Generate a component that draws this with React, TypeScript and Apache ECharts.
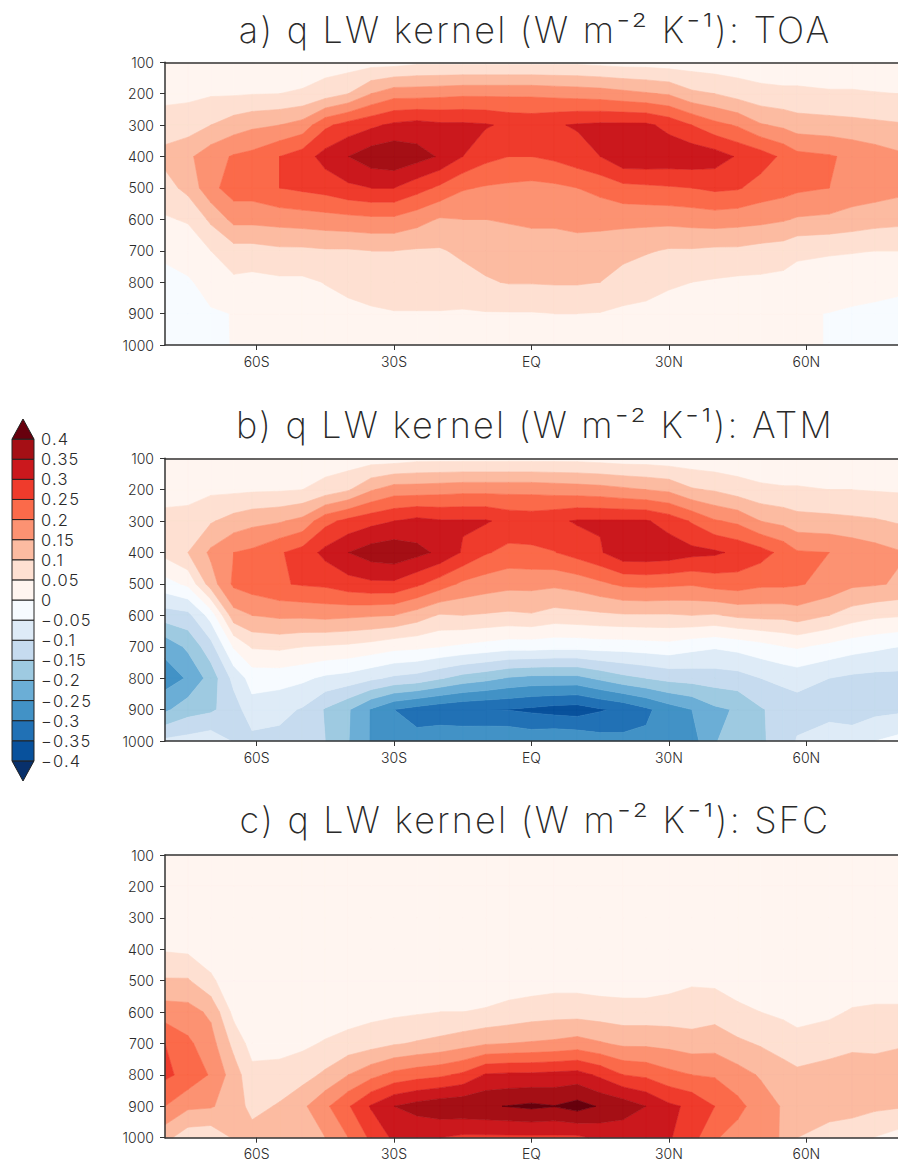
import React, { useEffect, useRef } from "react";
import * as echarts from "echarts";

const levels = [100, 200, 300, 400, 500, 600, 700, 800, 900, 1000];
const lats = [-80, -75, -70, -65, -61, -55, -50, -45, -40, -35, -30, -25, -20, -15, -10, -5, 0, 5, 10, 15, 20, 25, 30, 35, 40, 45, 50, 55, 58, 65, 70, 75, 80];
const latTicks = [-60, -30, 0, 30, 60];
const latTickLabels: Record<string, string> = { "-60": "60S", "-30": "30S", "0": "EQ", "30": "30N", "60": "60N" };
const contourLevels = [-0.4, -0.35, -0.3, -0.25, -0.2, -0.15, -0.1, -0.05, 0, 0.05, 0.1, 0.15, 0.2, 0.25, 0.3, 0.35, 0.4];
const bandColors = ["#08306b", "#08519c", "#2171b5", "#4292c6", "#6baed6", "#9ecae1", "#c6dbef", "#deebf7", "#f7fbff",
  "#fff5f0", "#fee0d2", "#fcbba1", "#fc9272", "#fb6a4a", "#ef3b2c", "#cb181d", "#a50f15", "#67000d"];

// one row per latitude, values at levels 100..1000 hPa
const toaField = [
  [.02, .035, .075, .115, .08, .045, .01, -.015, -.02, -.02],
  [.02, .04, .075, .14, .115, .055, .02, -.005, -.012, -.012],
  [.02, .045, .1, .18, .185, .11, .05, .015, -.004, -.005],
  [.02, .045, .125, .205, .225, .165, .08, .04, .001, .001],
  [.02, .048, .14, .215, .225, .165, .08, .035, .015, .01],
  [.02, .05, .15, .25, .25, .17, .09, .04, .015, .01],
  [.025, .055, .17, .275, .26, .175, .09, .04, .015, .01],
  [.025, .075, .24, .32, .27, .18, .095, .052, .03, .015],
  [.025, .1, .27, .35, .29, .185, .095, .065, .035, .02],
  [.03, .15, .29, .38, .3, .19, .1, .075, .042, .02],
  [.03, .18, .31, .39, .3, .19, .1, .08, .047, .02],
  [.04, .18, .32, .37, .27, .17, .095, .08, .047, .025],
  [.04, .185, .31, .345, .24, .145, .095, .08, .047, .03],
  [.04, .19, .31, .3, .205, .15, .11, .08, .045, .03],
  [.04, .19, .305, .265, .195, .15, .12, .095, .047, .03],
  [.04, .19, .29, .25, .19, .155, .12, .103, .047, .03],
  [.04, .19, .285, .25, .185, .16, .125, .103, .047, .03],
  [.04, .185, .295, .26, .19, .16, .125, .105, .05, .03],
  [.04, .18, .305, .28, .2, .165, .13, .105, .05, .03],
  [.035, .175, .31, .3, .215, .165, .125, .1, .048, .03],
  [.03, .165, .31, .34, .235, .165, .115, .08, .04, .025],
  [.03, .155, .31, .34, .24, .165, .105, .065, .04, .025],
  [.025, .145, .285, .335, .245, .165, .095, .055, .035, .02],
  [.025, .11, .25, .335, .25, .17, .095, .05, .03, .02],
  [.02, .1, .215, .325, .26, .175, .09, .045, .025, .02],
  [.02, .08, .195, .295, .255, .17, .09, .04, .02, .015],
  [.02, .065, .155, .275, .23, .165, .08, .04, .02, .015],
  [.02, .06, .14, .24, .22, .155, .075, .035, .015, .01],
  [.02, .06, .125, .215, .21, .145, .06, .03, .004, .004],
  [.02, .055, .12, .205, .2, .14, .055, .025, -.001, -.001],
  [.02, .055, .115, .19, .18, .13, .053, .02, -.006, -.008],
  [.02, .052, .11, .175, .175, .12, .05, .015, -.009, -.012],
  [.02, .05, .105, .16, .165, .115, .05, .01, -.012, -.015],
];
const atmField = [
  [.015, .03, .065, .065, -.02, -.125, -.235, -.275, -.21, -.09],
  [.015, .035, .065, .1, .01, -.115, -.19, -.245, -.172, -.082],
  [.015, .04, .095, .16, .125, -.03, -.12, -.18, -.159, -.07],
  [.015, .04, .12, .2, .21, .13, .005, -.085, -.124, -.104],
  [.015, .043, .135, .21, .225, .15, .055, -.03, -.07, -.115],
  [.015, .045, .145, .245, .245, .16, .06, -.03, -.085, -.115],
  [.02, .05, .165, .27, .255, .16, .05, -.04, -.105, -.125],
  [.02, .07, .235, .315, .26, .165, .045, -.06, -.155, -.15],
  [.02, .095, .265, .35, .28, .16, .04, -.07, -.195, -.198],
  [.025, .145, .285, .375, .29, .155, .03, -.09, -.255, -.255],
  [.025, .175, .3, .385, .29, .15, .015, -.11, -.3, -.29],
  [.035, .175, .315, .365, .26, .125, .01, -.12, -.32, -.285],
  [.035, .18, .305, .34, .225, .095, 0, -.145, -.335, -.265],
  [.035, .185, .305, .295, .19, .1, -.01, -.17, -.345, -.26],
  [.035, .185, .305, .255, .175, .095, -.02, -.185, -.35, -.255],
  [.035, .185, .285, .235, .165, .09, -.03, -.205, -.352, -.255],
  [.035, .185, .28, .24, .165, .095, -.03, -.215, -.36, -.265],
  [.035, .18, .29, .248, .16, .08, -.035, -.215, -.37, -.255],
  [.035, .175, .305, .27, .17, .085, -.035, -.215, -.375, -.26],
  [.03, .17, .305, .295, .19, .09, -.03, -.19, -.355, -.28],
  [.025, .16, .305, .335, .21, .095, -.03, -.165, -.34, -.285],
  [.025, .15, .305, .335, .215, .095, -.025, -.15, -.31, -.29],
  [.02, .14, .28, .33, .21, .095, -.02, -.135, -.275, -.3],
  [.02, .105, .245, .315, .205, .1, -.035, -.13, -.25, -.27],
  [.015, .095, .205, .308, .22, .095, -.045, -.125, -.21, -.205],
  [.015, .075, .19, .29, .225, .11, -.035, -.12, -.195, -.165],
  [.015, .06, .15, .27, .21, .115, -.02, -.1, -.155, -.155],
  [.015, .055, .135, .235, .21, .115, -.002, -.088, -.13, -.135],
  [.015, .055, .12, .205, .205, .125, .005, -.08, -.125, -.095],
  [.015, .05, .115, .2, .185, .1, -.015, -.1, -.117, -.075],
  [.015, .05, .11, .185, .16, .075, -.03, -.11, -.12, -.08],
  [.015, .047, .105, .17, .155, .06, -.04, -.115, -.115, -.05],
  [.015, .045, .095, .155, .145, .055, -.05, -.115, -.11, -.035],
];
const sfcField = [
  [.005, .005, .01, .045, .105, .175, .25, .26, .2, .115],
  [.005, .005, .01, .04, .105, .17, .21, .235, .16, .07],
  [.005, .005, .005, .02, .06, .14, .17, .195, .155, .065],
  [.005, .005, .005, .005, .015, .035, .085, .125, .125, .105],
  [.005, .005, .005, .005, .005, .01, .03, .065, .085, .12],
  [.005, .005, .005, .005, .005, .01, .03, .07, .105, .125],
  [.005, .005, .005, .005, .005, .015, .04, .08, .14, .125],
  [.005, .005, .005, .005, .005, .02, .055, .11, .19, .15],
  [.005, .005, .005, .005, .01, .025, .07, .15, .245, .2],
  [.005, .005, .005, .005, .01, .035, .08, .185, .305, .26],
  [.005, .005, .005, .005, .01, .04, .095, .215, .35, .31],
  [.005, .005, .005, .005, .01, .045, .105, .23, .37, .305],
  [.005, .005, .005, .005, .015, .05, .115, .24, .385, .3],
  [.005, .005, .005, .005, .015, .05, .13, .26, .39, .29],
  [.005, .005, .005, .01, .02, .055, .145, .305, .395, .29],
  [.005, .005, .005, .015, .025, .065, .15, .31, .402, .29],
  [.005, .005, .005, .015, .025, .075, .155, .31, .41, .29],
  [.005, .005, .005, .012, .03, .08, .16, .315, .402, .29],
  [.005, .005, .005, .01, .03, .08, .17, .32, .42, .29],
  [.005, .005, .005, .005, .025, .075, .155, .29, .395, .31],
  [.005, .005, .005, .005, .025, .07, .14, .25, .38, .31],
  [.005, .005, .005, .005, .025, .07, .14, .24, .35, .31],
  [.005, .005, .005, .005, .035, .07, .135, .215, .31, .305],
  [.005, .005, .005, .01, .045, .07, .125, .2, .29, .27],
  [.005, .005, .005, .01, .04, .08, .13, .195, .25, .205],
  [.005, .005, .005, .005, .03, .06, .11, .17, .215, .18],
  [.005, .005, .005, .005, .02, .05, .095, .145, .175, .17],
  [.005, .005, .005, .005, .01, .04, .08, .12, .145, .145],
  [.005, .005, .005, .005, .01, .03, .07, .11, .125, .1],
  [.005, .005, .005, .005, .015, .04, .08, .12, .115, .085],
  [.005, .005, .005, .005, .02, .055, .09, .125, .115, .075],
  [.005, .005, .005, .005, .02, .06, .09, .12, .11, .048],
  [.005, .005, .005, .005, .02, .06, .095, .125, .105, .03],
];
const panelTitles = [
  "a) q LW kernel (W m\u207B\u00B2 K\u207B\u00B9): TOA",
  "b) q LW kernel (W m\u207B\u00B2 K\u207B\u00B9): ATM",
  "c) q LW kernel (W m\u207B\u00B2 K\u207B\u00B9): SFC",
];
const panelFields = [toaField, atmField, sfcField];

const FONT = "Inter";
const INK = "#2a2a2a";

type V = { lat: number; p: number; v: number };
function clipPoly(poly: V[], level: number, above: boolean): V[] {
  const out: V[] = [];
  const inside = (a: V) => (above ? a.v >= level : a.v < level);
  for (let i = 0; i < poly.length; i++) {
    const a = poly[i];
    const b = poly[(i + 1) % poly.length];
    const ia = inside(a);
    const ib = inside(b);
    if (ia) out.push(a);
    if (ia !== ib) {
      const t = (level - a.v) / (b.v - a.v);
      out.push({ lat: a.lat + t * (b.lat - a.lat), p: a.p + t * (b.p - a.p), v: level });
    }
  }
  return out;
}

function contourRender(field: number[][]) {
  return (_params: any, api: any) => {
    const band = api.value(2) as number;
    const lo = band === 0 ? -Infinity : contourLevels[band - 1];
    const hi = band === bandColors.length - 1 ? Infinity : contourLevels[band];
    let d = "";
    for (let i = 0; i + 1 < lats.length; i++) {
      for (let j = 0; j + 1 < levels.length; j++) {
        let poly: V[] = [
          { lat: lats[i], p: levels[j], v: field[i][j] },
          { lat: lats[i + 1], p: levels[j], v: field[i + 1][j] },
          { lat: lats[i + 1], p: levels[j + 1], v: field[i + 1][j + 1] },
          { lat: lats[i], p: levels[j + 1], v: field[i][j + 1] },
        ];
        if (lo !== -Infinity) poly = clipPoly(poly, lo, true);
        if (poly.length && hi !== Infinity) poly = clipPoly(poly, hi, false);
        if (poly.length < 3) continue;
        poly.forEach((q, k) => {
          const c = api.coord([q.lat, q.p]);
          d += (k ? "L" : "M") + c[0].toFixed(2) + " " + c[1].toFixed(2);
        });
        d += "Z";
      }
    }
    if (!d) return null;
    const color = bandColors[band];
    return { type: "path", shape: { pathData: d }, style: { fill: color, stroke: color, lineWidth: 0.6 } };
  };
}

function barRender(_params: any, api: any) {
  const band = api.value(2) as number;
  const last = bandColors.length - 1;
  const lo = band === 0 ? -0.45 : contourLevels[band - 1];
  const hi = band === last ? 0.45 : contourLevels[band];
  const a = api.coord([0, hi]);
  const b = api.coord([1, lo]);
  const style = { fill: bandColors[band], stroke: "#222", lineWidth: 1 };
  if (band === 0) {
    return { type: "polygon", shape: { points: [[a[0], a[1]], [b[0], a[1]], [(a[0] + b[0]) / 2, b[1]]] }, style };
  }
  if (band === last) {
    return { type: "polygon", shape: { points: [[a[0], b[1]], [b[0], b[1]], [(a[0] + b[0]) / 2, a[1]]] }, style };
  }
  return { type: "rect", shape: { x: a[0], y: a[1], width: b[0] - a[0], height: b[1] - a[1] }, style };
}

const panelTops = [62.3, 458.3, 855];
const panelHeight = 282.7;
const titleTops = [7, 402, 797];

function buildOption() {
  const bandData = bandColors.map((_, i) => [-80, 100, i]);
  const grids: any[] = [];
  const xAxes: any[] = [];
  const yAxes: any[] = [];
  const series: any[] = [];
  const axisLine = { show: true, lineStyle: { color: "#333", width: 1.5 } };
  const label = { fontFamily: FONT, fontSize: 14, fontWeight: 300, color: INK };
  panelFields.forEach((field, k) => {
    grids.push({ left: 165, width: 737, top: panelTops[k], height: panelHeight });
    xAxes.push({
      gridIndex: k, type: "value", min: -80, max: 80, z: 10, position: "bottom", splitLine: { show: false },
      axisLine: { ...axisLine, onZero: false },
      axisTick: { show: true, length: 5, customValues: latTicks, lineStyle: { color: "#333", width: 1 } },
      axisLabel: { ...label, margin: 9, customValues: latTicks, formatter: (v: number) => latTickLabels[String(v)] ?? "" },
    });
    xAxes.push({
      gridIndex: k, type: "value", min: -80, max: 80, z: 10, position: "top", splitLine: { show: false },
      axisLine: { ...axisLine, onZero: false }, axisTick: { show: false }, axisLabel: { show: false },
    });
    yAxes.push({
      gridIndex: k, type: "value", min: 100, max: 1000, interval: 100, inverse: true, z: 10, splitLine: { show: false },
      axisLine: { ...axisLine, onZero: false },
      axisTick: { show: true, length: 5, lineStyle: { color: "#333", width: 1 } },
      axisLabel: { ...label, margin: 11, formatter: (v: number) => String(v) },
    });
    series.push({
      type: "custom", xAxisIndex: k * 2, yAxisIndex: k, z: 1, silent: true,
      data: bandData, renderItem: contourRender(field), encode: { x: 0, y: 1 },
    });
  });
  grids.push({ left: 12, width: 22, top: 419, height: 362 });
  xAxes.push({ gridIndex: 3, type: "value", min: 0, max: 1, show: false });
  yAxes.push({
    gridIndex: 3, type: "value", min: -0.45, max: 0.45, interval: 0.05, position: "right", splitLine: { show: false },
    axisLine: { show: false }, axisTick: { show: false },
    axisLabel: {
      fontFamily: FONT, fontSize: 16.5, fontWeight: 300, color: INK, margin: 7, showMinLabel: false, showMaxLabel: false,
      formatter: (v: number) => {
        const r = Math.round(v * 100) / 100;
        if (Math.abs(r) > 0.41) return "";
        return (r < 0 ? "\u2212" : "") + String(Math.abs(r));
      },
    },
  });
  series.push({
    type: "custom", xAxisIndex: 6, yAxisIndex: 3, silent: true,
    data: bandColors.map((_, i) => [0, 0, i]), renderItem: barRender, encode: { x: 0, y: 1 },
  });
  return {
    animation: false,
    backgroundColor: "#fff",
    title: panelTitles.map((text, k) => ({
      text, left: 530, top: titleTops[k], textAlign: "center",
      textStyle: { fontFamily: FONT, fontSize: 36, fontWeight: 200, color: INK },
    })),
    grid: grids, xAxis: xAxes, yAxis: yAxes, series,
  };
}

const spacingCss = 'text[style*="36px"]{letter-spacing:2.2px}text[style*="16.5px"]{letter-spacing:1.2px}';

export default function App() {
  const ref = useRef<HTMLDivElement>(null);
  useEffect(() => {
    const chart = echarts.init(ref.current!, null, { renderer: "svg" });
    chart.setOption(buildOption() as any);
    return () => chart.dispose();
  }, []);
  return (
    <>
      <style>{spacingCss}</style>
      <div ref={ref} style={{ position: "absolute", left: 0, top: 0, width: 898, height: 1167 }} />
    </>
  );
}
